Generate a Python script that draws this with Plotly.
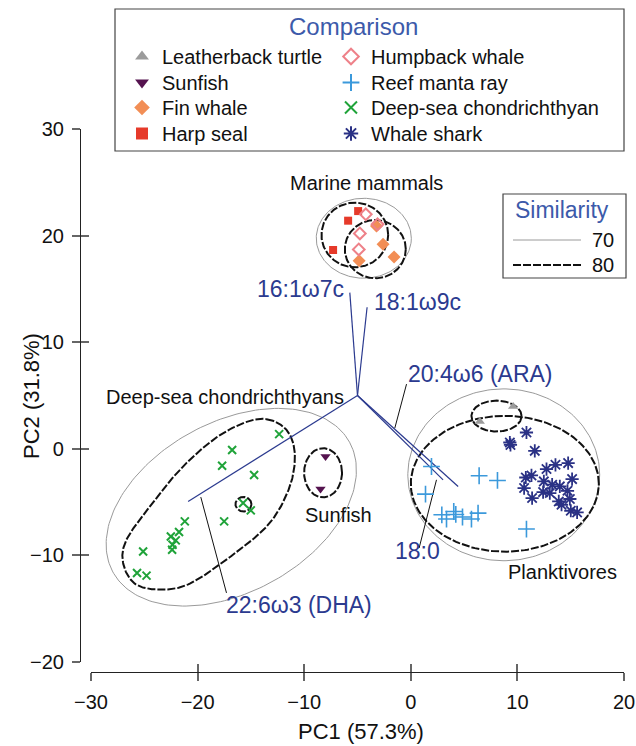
import numpy as np
import plotly.graph_objects as go

# ---------------- data ----------------
leatherback_x = [9.6, 6.47]
leatherback_y = [3.97, 2.56]
sunfish_x = [-8.0, -8.47]
sunfish_y = [-0.72, -3.78]
fin_x = [-3.22, -2.6, -1.57, -4.85]
fin_y = [20.9, 19.2, 18.0, 17.65]
harp_x = [-4.94, -5.88, -7.29]
harp_y = [22.3, 21.4, 18.65]
humpback_x = [-4.22, -3.12, -4.78, -4.88]
humpback_y = [22.0, 21.06, 20.2, 18.7]
manta_x = [1.94, 1.38, 2.91, 3.35, 4.03, 4.22, 4.85, 5.69, 6.31, 6.41, 8.13, 10.85]
manta_y = [-1.66, -4.25, -6.19, -6.59, -5.88, -6.16, -6.40, -6.59, -6.03, -2.53, -2.97, -7.53]
deepsea_x = [-12.35, -16.76, -17.70, -14.70, -15.73, -15.01, -17.51, -21.20, -21.74, -22.51,
             -22.05, -22.35, -22.39, -25.11, -25.68, -24.79]
deepsea_y = [1.38, -0.12, -1.59, -2.46, -5.08, -5.78, -6.81, -6.81, -7.81, -8.22,
             -8.59, -9.0, -9.47, -9.63, -11.65, -11.90]
shark_x = [10.85, 9.29, 9.35, 11.63, 12.73, 13.57, 14.76, 10.79, 11.32, 12.48, 13.26, 13.98,
           15.13, 10.63, 12.41, 13.04, 14.70, 11.38, 13.88, 14.14, 14.92, 15.01, 15.60]
shark_y = [1.53, 0.59, 0.37, -0.19, -1.90, -1.50, -1.34, -2.69, -2.50, -3.06, -3.37, -3.53,
           -2.84, -3.68, -4.06, -4.15, -3.94, -4.62, -4.94, -5.25, -4.71, -5.81, -5.97]

# fatty-acid vectors (origin and tips)
vec_origin = (-5.0, 5.0)
vec_names = ["16:1ω7c", "18:1ω9c", "20:4ω6 (ARA)", "22:6ω3 (DHA)", "18:0"]
vec_end_x = [-5.72, -4.10, 4.44, -20.89, 3.03]
vec_end_y = [14.65, 13.28, -3.53, -4.94, -2.91]
# label anchor points of the vectors
vec_lab_x = [-6.10, -3.66, -0.47, -17.54, -1.69]
vec_lab_y = [15.0, 13.8, 7.03, -14.62, -9.62]
vec_lab_anchor = ["right", "left", "left", "left", "left"]
# leader lines (from vector to label)
lead_x0 = [-1.50, -19.70, 2.41]
lead_y0 = [1.94, -4.53, -2.91]
lead_x1 = [-0.40, -17.29, 0.78]
lead_y1 = [6.07, -13.52, -9.31]

# group labels
grp_names = ["Marine mammals", "Deep-sea chondrichthyans", "Sunfish", "Planktivores"]
grp_x = [-4.13, -17.45, -6.82, 14.26]
grp_y = [24.93, 4.87, -6.19, -11.59]

# similarity outlines: ellipses (cx, cy, a, b, angle)
sim70_ell = [(-4.41, 19.75, 4.46, 3.75, 0), (-16.84, -5.48, 12.66, 7.97, 28.8),
             (8.72, -2.44, 9.0, 8.06, 0)]
sim80_ell = [(-5.25, 20.06, 3.13, 3.03, 0), (-3.33, 18.73, 2.86, 2.73, 0),
             (-8.23, -2.25, 1.78, 2.31, 0), (-15.7, -5.2, 0.75, 0.68, 0),
             (8.82, -3.28, 8.82, 6.37, 0), (8.04, 3.07, 2.35, 1.45, 0)]
# deep-sea 80% outline (closed smooth curve through these points)
deep80_x = [-13.54, -11.66, -10.88, -11.35, -13.23, -16.67, -20.73, -23.55, -25.89, -26.99,
            -26.67, -24.48, -21.67, -18.55, -15.73]
deep80_y = [2.78, 1.78, -0.40, -3.53, -6.96, -9.93, -12.65, -13.21, -12.65, -10.71,
            -8.53, -5.41, -1.97, 0.84, 2.41]

x_ticks = [-30, -20, -10, 0, 10, 20]
y_ticks = [-20, -10, 0, 10, 20, 30]

# ---------------- helpers ----------------
W, H = 636, 746
FONT = "Liberation Sans, Arial, Helvetica, sans-serif"
BLUE = "#2b3a8f"
TBLUE = "#3c5aaa"


def px(x):
    return x / W


def py(y):
    return 1 - y / H


def ellipse(cx, cy, a, b, ang, n=200):
    t = np.linspace(0, 2 * np.pi, n)
    r = np.deg2rad(ang)
    x = cx + a * np.cos(t) * np.cos(r) - b * np.sin(t) * np.sin(r)
    y = cy + a * np.cos(t) * np.sin(r) + b * np.sin(t) * np.cos(r)
    return x, y


def closed_spline(xs, ys, n=24):
    P = np.column_stack([xs, ys])
    m = len(P)
    out = []
    t = np.linspace(0, 1, n, endpoint=False)[:, None]
    for i in range(m):
        p0, p1, p2, p3 = P[i - 1], P[i], P[(i + 1) % m], P[(i + 2) % m]
        seg = 0.5 * ((2 * p1) + (-p0 + p2) * t + (2 * p0 - 5 * p1 + 4 * p2 - p3) * t ** 2
                     + (-p0 + 3 * p1 - 3 * p2 + p3) * t ** 3)
        out.append(seg)
    out.append(P[:1])
    c = np.vstack(out)
    return c[:, 0], c[:, 1]


fig = go.Figure()

DASH80 = "8px,2px"
line70 = dict(color="#9a9a9a", width=1)
line80 = dict(color="#111111", width=2, dash=DASH80)

for (cx, cy, a, b, ang) in sim70_ell:
    ex, ey = ellipse(cx, cy, a, b, ang)
    fig.add_trace(go.Scatter(x=ex, y=ey, mode="lines", line=line70, showlegend=False,
                             hoverinfo="skip"))
for (cx, cy, a, b, ang) in sim80_ell:
    ex, ey = ellipse(cx, cy, a, b, ang)
    fig.add_trace(go.Scatter(x=ex, y=ey, mode="lines", line=line80, showlegend=False,
                             hoverinfo="skip"))
sx, sy = closed_spline(deep80_x, deep80_y)
fig.add_trace(go.Scatter(x=sx, y=sy, mode="lines", line=line80, showlegend=False,
                         hoverinfo="skip"))

# vectors
for ex, ey in zip(vec_end_x, vec_end_y):
    fig.add_trace(go.Scatter(x=[vec_origin[0], ex], y=[vec_origin[1], ey], mode="lines",
                             line=dict(color=BLUE, width=1.2), showlegend=False,
                             hoverinfo="skip"))
# leader lines
for a0, b0, a1, b1 in zip(lead_x0, lead_y0, lead_x1, lead_y1):
    fig.add_trace(go.Scatter(x=[a0, a1], y=[b0, b1], mode="lines",
                             line=dict(color="#111111", width=1), showlegend=False,
                             hoverinfo="skip"))

# points; each legend entry gets its own legend box so rows/columns match the key
series = [
    ("Leatherback turtle", leatherback_x, leatherback_y,
     dict(symbol="triangle-up", size=9, color="#9b9b9b")),
    ("Sunfish", sunfish_x, sunfish_y,
     dict(symbol="triangle-down", size=9, color="#55134f")),
    ("Fin whale", fin_x, fin_y,
     dict(symbol="diamond", size=10, color="#f28e55")),
    ("Harp seal", harp_x, harp_y,
     dict(symbol="square", size=8, color="#e63a2a")),
    ("Humpback whale", humpback_x, humpback_y,
     dict(symbol="diamond-open", size=9, color="#ee8189", line=dict(width=2))),
    ("Reef manta ray", manta_x, manta_y,
     dict(symbol="cross-thin-open", size=12, color="#3b99db", line=dict(width=1.6, color="#3b99db"))),
    ("Deep-sea chondrichthyan", deepsea_x, deepsea_y,
     dict(symbol="x-thin-open", size=8, color="#1fa339", line=dict(width=2, color="#1fa339"))),
    ("Whale shark", shark_x, shark_y,
     dict(symbol="asterisk-open", size=11, color="#2a3185", line=dict(width=1.8, color="#2a3185"))),
]
legend_ids = ["legend"] + ["legend%d" % i for i in range(2, 9)]
for (name, xs, ys, mk), lg in zip(series, legend_ids):
    fig.add_trace(go.Scatter(x=xs, y=ys, mode="markers", name=name, marker=mk, legend=lg))

# overlay axes carrying the inner half of the crossing ticks
fig.add_trace(go.Scatter(x=[None], y=[None], xaxis="x2", yaxis="y2", showlegend=False,
                         hoverinfo="skip"))

annotations = []
for name, lx, ly, anc in zip(vec_names, vec_lab_x, vec_lab_y, vec_lab_anchor):
    annotations.append(dict(x=lx, y=ly, xref="x", yref="y", text=name, showarrow=False,
                            xanchor=anc, yanchor="middle",
                            font=dict(family=FONT, size=23, color=BLUE)))
for name, gx, gy in zip(grp_names, grp_x, grp_y):
    annotations.append(dict(x=gx, y=gy, xref="x", yref="y", text=name, showarrow=False,
                            xanchor="center", yanchor="middle",
                            font=dict(family=FONT, size=20, color="#111111")))
# axis titles
annotations.append(dict(x=px(361), y=py(731), xref="paper", yref="paper", text="PC1 (57.3%)",
                        showarrow=False, xanchor="center", yanchor="middle",
                        font=dict(family=FONT, size=22, color="#111111")))
annotations.append(dict(x=px(31), y=py(396), xref="paper", yref="paper", text="PC2 (31.8%)",
                        showarrow=False, xanchor="center", yanchor="middle", textangle=-90,
                        font=dict(family=FONT, size=22, color="#111111")))
# legend title / similarity key
annotations.append(dict(x=px(353), y=py(26), xref="paper", yref="paper", text="Comparison",
                        showarrow=False, xanchor="center", yanchor="middle",
                        font=dict(family=FONT, size=24, color=TBLUE)))
annotations.append(dict(x=px(562), y=py(210), xref="paper", yref="paper", text="Similarity",
                        showarrow=False, xanchor="center", yanchor="middle",
                        font=dict(family=FONT, size=23, color=TBLUE)))
for lab, yy in (("70", 240), ("80", 265)):
    annotations.append(dict(x=px(616), y=py(yy), xref="paper", yref="paper", text=lab,
                            showarrow=False, xanchor="right", yanchor="middle",
                            font=dict(family=FONT, size=20, color="#111111")))

shapes = [
    dict(type="rect", xref="paper", yref="paper", x0=px(115), x1=px(624), y0=py(9), y1=py(151),
         line=dict(color="#444444", width=1.2), fillcolor="rgba(0,0,0,0)", layer="above"),
    dict(type="rect", xref="paper", yref="paper", x0=px(503), x1=px(626), y0=py(194), y1=py(278),
         line=dict(color="#444444", width=1.2), fillcolor="white", layer="above"),
    dict(type="line", xref="paper", yref="paper", x0=px(513), x1=px(581), y0=py(240), y1=py(240),
         line=dict(color="#9a9a9a", width=1), layer="above"),
    dict(type="line", xref="paper", yref="paper", x0=px(513), x1=px(581), y0=py(265), y1=py(265),
         line=dict(color="#111111", width=2, dash=DASH80), layer="above"),
]

xdom = [px(91), px(624)]
ydom = [py(662), py(129)]
axfont = dict(family=FONT, size=20, color="#111111")
common = dict(showgrid=False, zeroline=False, ticklen=8, tickwidth=1.5, tickcolor="#666666")

layout_legends = {}
row_tops = [37, 63, 88, 114]
col_x = [122, 331]
for i, lg in enumerate(legend_ids):
    col, row = divmod(i, 4)
    layout_legends[lg] = dict(x=px(col_x[col]), y=py(row_tops[row]), xanchor="left",
                              yanchor="top", orientation="v", itemsizing="constant",
                              font=dict(family=FONT, size=20, color="#111111"),
                              bgcolor="rgba(0,0,0,0)", borderwidth=0)

fig.update_layout(
    width=W, height=H,
    margin=dict(l=0, r=0, t=0, b=0),
    paper_bgcolor="white", plot_bgcolor="white",
    font=dict(family=FONT, size=20, color="#111111"),
    xaxis=dict(domain=xdom, range=[-30, 20], anchor="free", position=py(672),
               tickmode="array", tickvals=x_ticks, ticks="outside", showline=True,
               linecolor="#222222", linewidth=1.2, tickfont=axfont, automargin=False,
               ticklabelstandoff=4, **common),
    yaxis=dict(domain=ydom, range=[-20, 30], anchor="free", position=px(80),
               tickmode="array", tickvals=y_ticks, ticks="outside", showline=True,
               linecolor="#222222", linewidth=1.2, tickfont=axfont, automargin=False,
               ticklabelstandoff=4, **common),
    xaxis2=dict(domain=xdom, range=[-30, 20], anchor="free", position=py(672), overlaying="x",
                tickmode="array", tickvals=x_ticks, ticks="inside", showline=False,
                showticklabels=False, **common),
    yaxis2=dict(domain=ydom, range=[-20, 30], anchor="free", position=px(80), overlaying="y",
                tickmode="array", tickvals=y_ticks, ticks="inside", showline=False,
                showticklabels=False, **common),
    annotations=annotations,
    shapes=shapes,
    showlegend=True,
    **layout_legends,
)

fig.write_html("out.html")
